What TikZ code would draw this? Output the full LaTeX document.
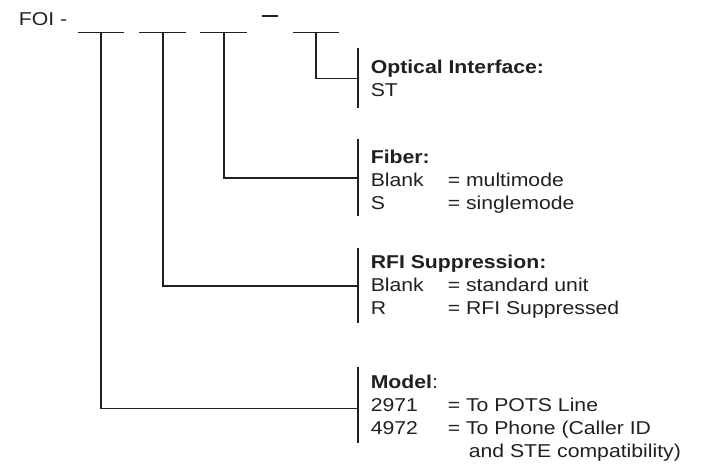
\documentclass[tikz,border=0pt]{standalone}
\usepackage{fontspec}
\setmainfont{Liberation Sans}[FakeStretch=1.14]
\usetikzlibrary{calc}
\definecolor{ink}{RGB}{35,31,32}
\newcommand{\optrow}[2]{\makebox[77pt][l]{#1}#2}

\begin{document}
\begin{tikzpicture}[x=1pt, y=-1pt, line width=1.6pt, draw=ink,
    field/.style={anchor=base west, inner sep=0pt, text=ink,
      font=\fontsize{18.6}{23.2}\selectfont}]
    \useasboundingbox (0,0) rectangle (704,464);
    % part number slots
    \coordinate (S1) at (101,32.3); \coordinate (S2) at (163,32.3);
    \coordinate (S3) at (224,32.3); \coordinate (S4) at (316,32.3);
    \node[field] (foi) at (18,25.7) {FOI -};
    \draw ($(S1)+(-23,0)$) -- ($(S1)+(23,0)$);
    \draw ($(S2)+(-24,0)$) -- ($(S2)+(23,0)$);
    \draw ($(S3)+(-24,0)$) -- ($(S3)+(23,0)$);
    \draw (262,16) -- (278,16);
    \draw ($(S4)+(-23,0)$) -- ($(S4)+(23,0)$);
    % brackets
    \coordinate (OptTop) at (358,47.5); \coordinate (OptBot) at (358,108.3);
    \coordinate (FibTop) at (358,139.3); \coordinate (FibBot) at (358,216);
    \coordinate (RfiTop) at (358,247.7); \coordinate (RfiBot) at (358,323.3);
    \coordinate (ModTop) at (358,366.7); \coordinate (ModBot) at (358,442.5);
    \draw (OptTop) -- (OptBot); \draw (FibTop) -- (FibBot);
    \draw (RfiTop) -- (RfiBot); \draw (ModTop) -- (ModBot);
    \coordinate (OptTap) at (358,78.3); \coordinate (FibTap) at (358,177.7);
    \coordinate (RfiTap) at (358,286); \coordinate (ModTap) at (358,408.3);
    % leaders
    \draw (S4) |- (OptTap); \draw (S3) |- (FibTap);
    \draw (S2) |- (RfiTap); \draw (S1) |- (ModTap);
    % option texts
    \node[field] (optic) at (370,73.5) {\begin{tabular}[t]{@{}l@{}}
        \textbf{Optical Interface:}\\ ST\end{tabular}};
    \node[field] (fiber) at (370,163) {\begin{tabular}[t]{@{}l@{}}
        \textbf{Fiber:}\\ \optrow{Blank}{= multimode}\\ \optrow{S}{= singlemode}\end{tabular}};
    \node[field] (rfi) at (370,268.5) {\begin{tabular}[t]{@{}l@{}}
        \textbf{RFI Suppression:}\\ \optrow{Blank}{= standard unit}\\ \optrow{R}{= RFI Suppressed}\end{tabular}};
    \node[field] (model) at (370,388.3) {\begin{tabular}[t]{@{}l@{}}
        \textbf{Model}:\\ \optrow{2971}{= To POTS Line}\\ \optrow{4972}{= To Phone (Caller ID}\\
        \hspace*{98pt}and STE compatibility)\end{tabular}};
\end{tikzpicture}
\end{document}
